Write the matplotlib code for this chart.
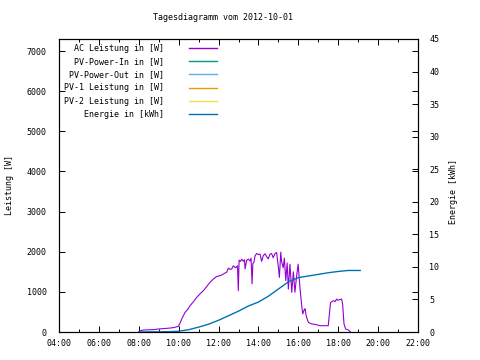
import matplotlib.pyplot as plt
from matplotlib.lines import Line2D

# time of day in decimal hours, AC power in W
ac_time = [8.00, 8.05, 8.25, 8.75, 9.00, 9.25, 9.50, 9.75, 9.98, 10.08,
           10.15, 10.25, 10.32, 10.45, 10.57, 10.75, 10.90, 11.07, 11.24, 11.40,
           11.57, 11.74, 11.91, 12.05, 12.16, 12.33, 12.41, 12.49, 12.58, 12.66,
           12.74, 12.85, 12.91, 12.95, 12.99, 13.03, 13.10, 13.16, 13.24, 13.30,
           13.33, 13.41, 13.49, 13.58, 13.63, 13.68, 13.72, 13.78, 13.83, 13.91,
           14.00, 14.08, 14.16, 14.24, 14.33, 14.41, 14.49, 14.58, 14.66, 14.74,
           14.83, 14.91, 15.00, 15.05, 15.12, 15.16, 15.24, 15.30, 15.37, 15.44,
           15.50, 15.58, 15.67, 15.75, 15.83, 15.91, 15.99, 16.08, 16.17, 16.22,
           16.30, 16.34, 16.39, 16.50, 16.67, 16.84, 17.09, 17.50, 17.59, 17.62,
           17.70, 17.76, 17.85, 17.92, 18.00, 18.09, 18.17, 18.22, 18.29, 18.37,
           18.51, 18.62]
ac_power = [0, 30, 50, 60, 75, 85, 95, 110, 140, 230,
            320, 420, 490, 560, 655, 760, 860, 950, 1030, 1130,
            1236, 1320, 1385, 1400, 1420, 1470, 1490, 1590, 1560, 1570,
            1650, 1600, 1625, 1650, 1030, 1790, 1760, 1815, 1760, 1800,
            1570, 1790, 1815, 1770, 1840, 1200, 1700, 1750, 1900, 1955,
            1930, 1940, 1760, 1900, 1950, 1880, 1820, 1940, 1955, 1850,
            1955, 1980, 1610, 1360, 1990, 1760, 1600, 1840, 1280, 1720,
            1070, 1690, 990, 1500, 990, 1380, 1690, 1110, 655, 450,
            560, 580, 410, 240, 200, 190, 157, 157, 615, 740,
            760, 780, 760, 820, 790, 810, 820, 700, 200, 75,
            50, 0]

# daily energy in kWh
energy_time = [8.0, 9.5, 10.0, 10.5, 11.0, 11.5, 12.0, 12.5, 13.0, 13.5,
               14.0, 14.5, 15.0, 15.5, 16.0, 16.5, 17.0, 17.5, 18.0, 18.5, 19.1]
energy_kwh = [0.0, 0.05, 0.12, 0.35, 0.75, 1.2, 1.8, 2.5, 3.2, 4.0,
              4.6, 5.5, 6.6, 7.7, 8.35, 8.6, 8.85, 9.1, 9.3, 9.45, 9.45]

labels = ["AC Leistung in [W]", "PV-Power-In in [W]", "PV-Power-Out in [W]",
          "PV-1 Leistung in [W]", "PV-2 Leistung in [W]", "Energie in [kWh]"]
colors = ["#9400D3", "#009E73", "#56B4E9", "#E69F00", "#F0E442", "#0072B2"]

hour_ticks = list(range(4, 23, 2))

plt.rcParams.update({
    "font.family": "DejaVu Sans Mono",
    "font.size": 6,
})

fig = plt.figure(figsize=(4.8, 3.6), dpi=100)
ax = fig.add_axes([59 / 480, 28 / 360, 359 / 480, 293 / 360])
ax2 = ax.twinx()

ax.plot(ac_time, ac_power, color=colors[0], lw=0.8)
ax2.plot(energy_time, energy_kwh, color=colors[5], lw=1.0)

ax.set_xlim(4, 22)
ax.set_ylim(0, 7300)
ax2.set_ylim(0, 45)

ax.set_xticks(hour_ticks)
ax.set_xticklabels([f"{h:02d}:00" for h in hour_ticks])
ax.set_xticks(range(4, 23), minor=True)
ax.set_yticks(range(0, 7001, 1000))
ax2.set_yticks(range(0, 46, 5))

ax.tick_params(axis="x", which="both", direction="in", top=True, pad=5)
ax.tick_params(axis="x", which="major", length=4, width=0.7)
ax.tick_params(axis="x", which="minor", length=2, width=0.7)
ax.tick_params(axis="y", direction="in", right=True, length=4, width=0.7, pad=9)
ax2.tick_params(axis="y", direction="in", length=4, width=0.7, pad=8)
for lab in ax2.get_yticklabels():
    lab.set_ha("left")

for a in (ax, ax2):
    for s in a.spines.values():
        s.set_linewidth(0.8)
        s.set_color("black")

# axis titles placed like gnuplot does
fig.text(10 / 480, 1 - 185 / 360, "Leistung [W]", rotation=90,
         ha="center", va="center")
fig.text(453 / 480, 1 - 192 / 360, "Energie [kWh]", rotation=90,
         ha="center", va="center")

fig.text(223 / 480, 1 - 18 / 360, "Tagesdiagramm vom 2012-10-01",
         ha="center", va="center")

# legend (gnuplot style: right aligned text, sample line after it)
handles = [Line2D([], [], color=c, lw=1.0) for c in colors]
width = max(len(l) for l in labels)
leg = ax.legend(handles, [l.rjust(width) for l in labels],
                loc="upper left", bbox_to_anchor=(0.0, 1.0),
                frameon=False, markerfirst=False,
                handlelength=3.4, handletextpad=3.0,
                labelspacing=0.5, borderaxespad=0.2)

fig.savefig("out.png", dpi=100)
